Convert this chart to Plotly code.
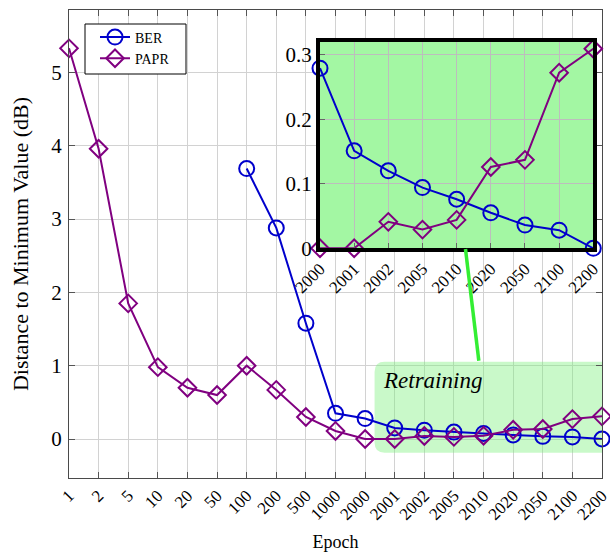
import plotly.graph_objects as go

# ---- data ----
epochs = ["1", "2", "5", "10", "20", "50", "100", "200", "500", "1000",
          "2000", "2001", "2002", "2005", "2010", "2020", "2050", "2100", "2200"]
ber = [None, None, None, None, None, None, 3.69, 2.88, 1.58, 0.35,
       0.279, 0.151, 0.120, 0.094, 0.076, 0.055, 0.036, 0.028, 0.0]
papr = [5.33, 3.96, 1.85, 0.98, 0.70, 0.60, 1.00, 0.67, 0.30, 0.11,
        0.0, 0.0, 0.041, 0.029, 0.044, 0.126, 0.137, 0.272, 0.309]
series_names = ["BER", "PAPR"]
inset_start = 10
inset_epochs = epochs[inset_start:]
inset_ber = ber[inset_start:]
inset_papr = papr[inset_start:]

BLUE = "#0000cc"
PURPLE = "#800080"
FONT = "Liberation Serif"
GRID = "#d2d2d2"

fig = go.Figure()

def add_series(x, y, name, color, symbol, size, xa, ya, showlegend):
    fig.add_trace(go.Scatter(
        x=x, y=y, name=name, mode="lines+markers",
        line=dict(color=color, width=2),
        marker=dict(symbol=symbol, size=size, color=color, line=dict(width=2, color=color)),
        xaxis=xa, yaxis=ya, showlegend=showlegend, cliponaxis=False,
    ))

add_series(epochs, ber, series_names[0], BLUE, "circle-open", 15, "x", "y", True)
add_series(epochs, papr, series_names[1], PURPLE, "diamond-open", 13.5, "x", "y", True)
add_series(inset_epochs, inset_ber, series_names[0], BLUE, "circle-open", 15, "x2", "y2", False)
add_series(inset_epochs, inset_papr, series_names[1], PURPLE, "diamond-open", 13.5, "x2", "y2", False)

W, H = 610, 552
ml, mr, mt, mb = 69, 8, 10, 74
pw, ph = W - ml - mr, H - mt - mb

def px_x(p):
    return (p - ml) / pw

def px_y(p):
    return (H - mb - p) / ph

fig.update_layout(
    width=W, height=H,
    margin=dict(l=ml, r=mr, t=mt, b=mb, pad=0),
    paper_bgcolor="white", plot_bgcolor="white",
    font=dict(family=FONT, color="black"),
    legend=dict(x=px_x(95), y=px_y(21.5), xanchor="left", yanchor="top",
                borderwidth=0, bgcolor="rgba(0,0,0,0)",
                font=dict(size=14, family=FONT), tracegroupgap=0),
    xaxis=dict(type="category", categoryorder="array", categoryarray=epochs,
               range=[0, len(epochs) - 1], showgrid=True, gridcolor=GRID, gridwidth=1,
               showline=True, linecolor="#4a4a4a", linewidth=1.3, mirror="ticks",
               ticks="inside", ticklen=6, tickcolor="#555", tickangle=-45,
               tickfont=dict(size=17, family=FONT), automargin=False,
               title=dict(text="Epoch", font=dict(size=18, family=FONT), standoff=16)),
    yaxis=dict(range=[-0.532, 5.853], dtick=1, tick0=0, showgrid=True, gridcolor=GRID,
               zeroline=False, showline=True, linecolor="#4a4a4a", linewidth=1.3,
               mirror="ticks", ticks="inside", ticklen=6, tickcolor="#555",
               tickfont=dict(size=21, family=FONT), ticklabelstandoff=2, automargin=False,
               title=dict(text="Distance to Minimum Value (dB)", font=dict(size=22, family=FONT),
                          standoff=16)),
    xaxis2=dict(type="category", categoryorder="array", categoryarray=inset_epochs,
                range=[0, len(inset_epochs) - 1], anchor="y2",
                domain=[px_x(320), px_x(593.3)], automargin=False,
                showgrid=True, gridcolor="#bdbdbd", gridwidth=1,
                showline=True, linecolor="black", linewidth=4, mirror=True,
                ticks="inside", ticklen=5, tickcolor="#666", tickangle=-45,
                tickfont=dict(size=17, family=FONT)),
    yaxis2=dict(range=[0, 0.32], tickvals=[0, 0.1, 0.2, 0.3], ticktext=["0", "0.1", "0.2", "0.3"],
                anchor="x2", domain=[px_y(248.3), px_y(41.7)], automargin=False,
                showgrid=True, gridcolor="#bdbdbd", zeroline=False,
                showline=True, linecolor="black", linewidth=4, mirror=True,
                ticks="inside", ticklen=5, tickcolor="#666",
                tickfont=dict(size=21, family=FONT)),
)

# legend frame (white box with black border, under the legend entries)
fig.add_shape(type="rect", xref="paper", yref="paper",
              x0=px_x(85), x1=px_x(186), y0=px_y(74), y1=px_y(24),
              layer="above", fillcolor="white", line=dict(color="black", width=1))

# inset green background (below inset grid, above main plot)
fig.add_shape(type="rect", xref="x2", yref="y2", x0=0, x1=len(inset_epochs) - 1,
              y0=0, y1=0.32, layer="below", fillcolor="#a3f7a3", line=dict(width=0))

# Retraining rounded box
x0, x1, y0, y1 = 10.32, 18.6, -0.187, 1.055
rx, ry = 0.34, 0.136
path = (f"M {x0+rx},{y0} L {x1-rx},{y0} Q {x1},{y0} {x1},{y0+ry} "
        f"L {x1},{y1-ry} Q {x1},{y1} {x1-rx},{y1} L {x0+rx},{y1} "
        f"Q {x0},{y1} {x0},{y1-ry} L {x0},{y0+ry} Q {x0},{y0} {x0+rx},{y0} Z")
fig.add_shape(type="path", xref="x", yref="y", path=path, layer="between",
              fillcolor="rgba(120,240,120,0.4)", line=dict(width=0))

# connector line
fig.add_shape(type="line", xref="x", yref="y", x0=13.39, y0=2.592, x1=13.84, y1=1.068,
              layer="above", line=dict(color="#33ee33", width=3.5))

fig.add_annotation(x=10.55, y=0.80, xref="x", yref="y", text="<i>Retraining</i>", showarrow=False,
                   xanchor="left", yanchor="middle",
                   font=dict(size=23, family=FONT, color="black"))

fig.write_html("out.html")
